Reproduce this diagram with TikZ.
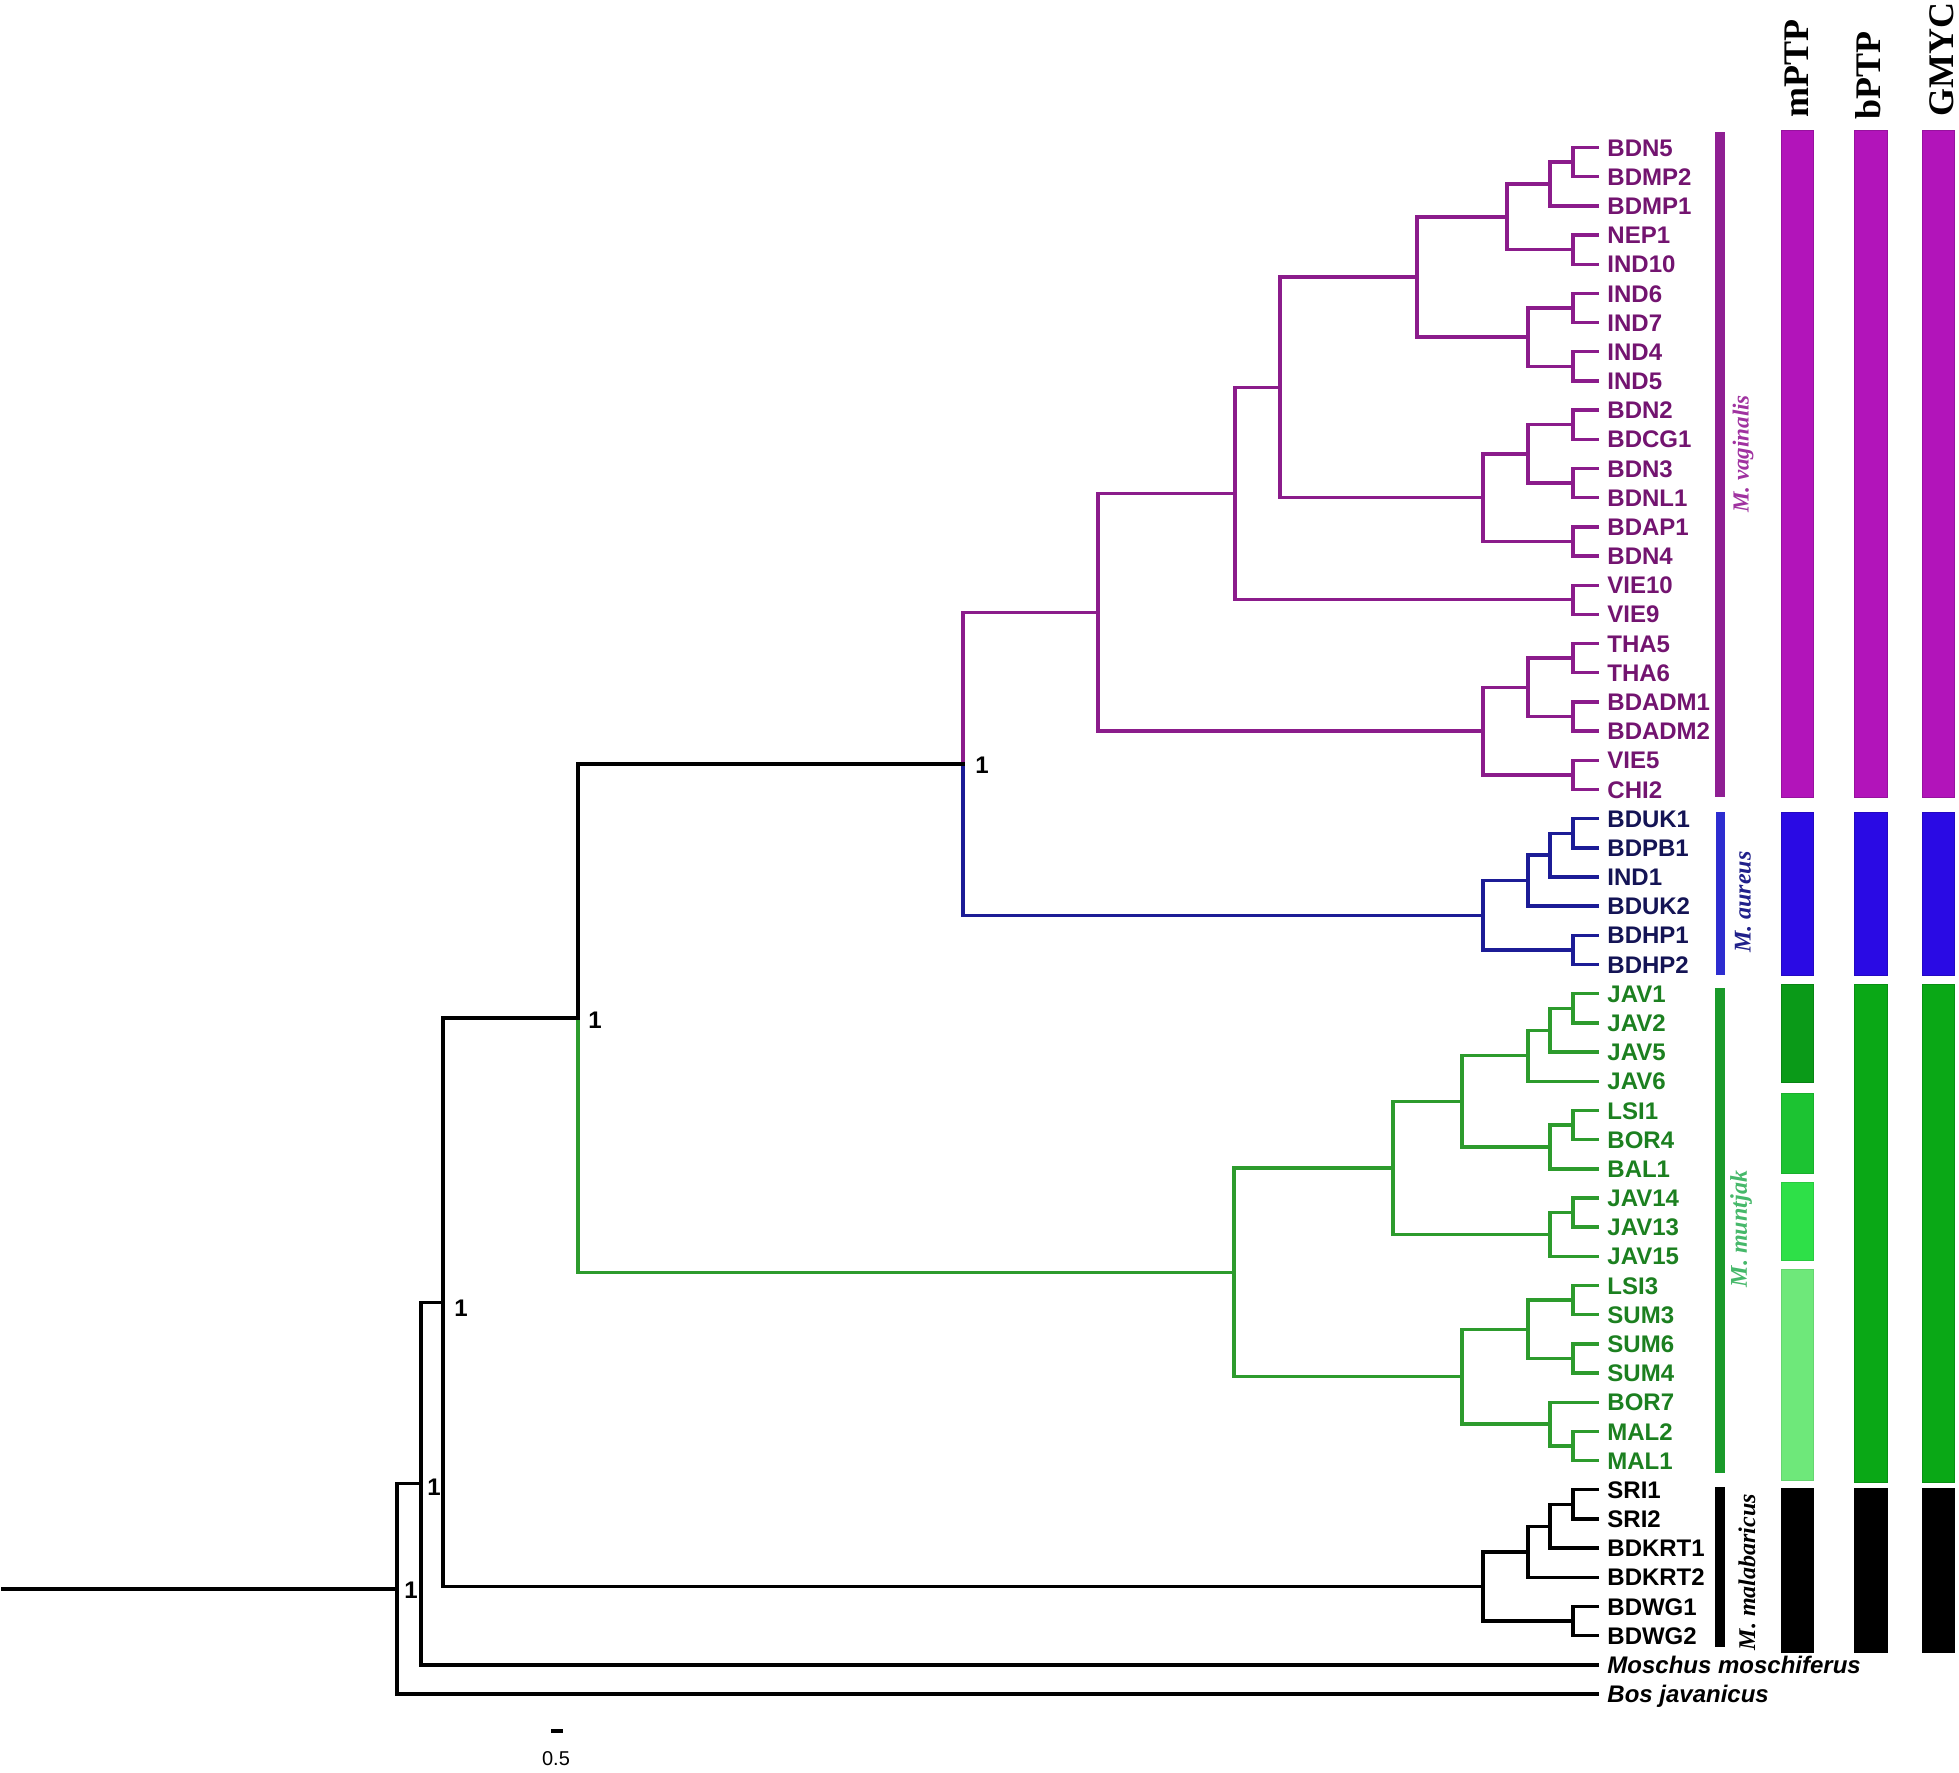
\documentclass[tikz,border=0pt]{standalone}
\usepackage{fontspec}
\setmainfont{Liberation Sans}
\newfontfamily\serifrm{Liberation Serif}
\definecolor{vagtr}{RGB}{139,28,139}
\definecolor{vagtx}{RGB}{115,20,112}
\definecolor{vagbar}{RGB}{178,20,186}
\definecolor{vagcl}{RGB}{143,31,147}
\definecolor{vagit}{RGB}{160,50,160}
\definecolor{aurtr}{RGB}{28,28,150}
\definecolor{aurtx}{RGB}{20,20,85}
\definecolor{aurbar}{RGB}{42,10,228}
\definecolor{aurcl}{RGB}{45,45,208}
\definecolor{aurit}{RGB}{32,32,138}
\definecolor{muntr}{RGB}{45,155,45}
\definecolor{muntx}{RGB}{28,128,32}
\definecolor{munbar}{RGB}{10,168,22}
\definecolor{muncl}{RGB}{26,154,42}
\definecolor{munit}{RGB}{70,184,106}
\definecolor{mpa}{RGB}{10,154,24}
\definecolor{mpb}{RGB}{28,195,50}
\definecolor{mpc}{RGB}{46,224,72}
\definecolor{mpd}{RGB}{110,232,122}
\newcommand\nd[3]{\coordinate (#1) at (#2,{147.5+29.18*(#3)});}
\newcommand\jn[4]{\draw[br,#1] (#2) |- (#3); \draw[br,#1] (#2) |- (#4);}
\begin{document}
\begin{tikzpicture}[x=0.5pt,y=-0.5pt,
  br/.style={line width=1.7pt, line cap=rect, line join=miter},
  leaf/.style={anchor=west, inner xsep=5pt, inner ysep=0pt, font=\bfseries\fontsize{12}{12}\selectfont, text height=8.6pt, text depth=0pt},
  boot/.style={anchor=west, inner sep=0pt, font=\bfseries\fontsize{12}{12}\selectfont, text height=8.6pt, text depth=0pt},
  spc/.style={rotate=90, inner sep=0pt, font=\serifrm\bfseries\itshape\fontsize{12}{12}\selectfont},
  hdr/.style={rotate=90, anchor=base west, inner sep=0pt, font=\serifrm\bfseries\fontsize{18}{18}\selectfont},
  barbox/.style={line width=0.4pt}]
\fill[white] (0,0) rectangle (1959,1772);
\useasboundingbox (0,0) rectangle (1959,1772);

% ---- leaves
\foreach \i/\t in {0/BDN5,1/BDMP2,2/BDMP1,3/NEP1,4/IND10,5/IND6,6/IND7,7/IND4,8/IND5,9/BDN2,10/BDCG1,11/BDN3,12/BDNL1,13/BDAP1,14/BDN4,15/VIE10,16/VIE9,17/THA5,18/THA6,19/BDADM1,20/BDADM2,21/VIE5,22/CHI2}
  \node[leaf,text=vagtx] (l\i) at (1597,{147.5+29.18*\i}) {\t};
\foreach \i/\t in {23/BDUK1,24/BDPB1,25/IND1,26/BDUK2,27/BDHP1,28/BDHP2}
  \node[leaf,text=aurtx] (l\i) at (1597,{147.5+29.18*\i}) {\t};
\foreach \i/\t in {29/JAV1,30/JAV2,31/JAV5,32/JAV6,33/LSI1,34/BOR4,35/BAL1,36/JAV14,37/JAV13,38/JAV15,39/LSI3,40/SUM3,41/SUM6,42/SUM4,43/BOR7,44/MAL2,45/MAL1}
  \node[leaf,text=muntx] (l\i) at (1597,{147.5+29.18*\i}) {\t};
\foreach \i/\t in {46/SRI1,47/SRI2,48/BDKRT1,49/BDKRT2,50/BDWG1,51/BDWG2}
  \node[leaf,text=black] (l\i) at (1597,{147.5+29.18*\i}) {\t};
\node[leaf,font=\bfseries\itshape\fontsize{12}{12}\selectfont] (l52) at (1597,{147.5+29.18*52}) {Moschus moschiferus};
\node[leaf,font=\bfseries\itshape\fontsize{12}{12}\selectfont] (l53) at (1597,{147.5+29.18*53}) {Bos javanicus};

% ---- M. vaginalis
\nd{n01}{1573}{0.5} \jn{vagtr}{n01}{l0.west}{l1.west}
\nd{n012}{1550}{1.25} \jn{vagtr}{n012}{n01}{l2.west}
\nd{n34}{1573}{3.5} \jn{vagtr}{n34}{l3.west}{l4.west}
\nd{nVf}{1507}{2.375} \jn{vagtr}{nVf}{n012}{n34}
\nd{n56}{1573}{5.5} \jn{vagtr}{n56}{l5.west}{l6.west}
\nd{n78}{1573}{7.5} \jn{vagtr}{n78}{l7.west}{l8.west}
\nd{nVs}{1528}{6.5} \jn{vagtr}{nVs}{n56}{n78}
\nd{nVt}{1417}{4.4375} \jn{vagtr}{nVt}{nVf}{nVs}
\nd{n910}{1573}{9.5} \jn{vagtr}{n910}{l9.west}{l10.west}
\nd{n1112}{1573}{11.5} \jn{vagtr}{n1112}{l11.west}{l12.west}
\nd{n912}{1528}{10.5} \jn{vagtr}{n912}{n910}{n1112}
\nd{n1314}{1573}{13.5} \jn{vagtr}{n1314}{l13.west}{l14.west}
\nd{nVg}{1483}{12} \jn{vagtr}{nVg}{n912}{n1314}
\nd{nVb}{1280}{8.21875} \jn{vagtr}{nVb}{nVt}{nVg}
\nd{n1516}{1573}{15.5} \jn{vagtr}{n1516}{l15.west}{l16.west}
\nd{nVa}{1235}{11.859375} \jn{vagtr}{nVa}{nVb}{n1516}
\nd{n1718}{1573}{17.5} \jn{vagtr}{n1718}{l17.west}{l18.west}
\nd{n1920}{1573}{19.5} \jn{vagtr}{n1920}{l19.west}{l20.west}
\nd{n1720}{1528}{18.5} \jn{vagtr}{n1720}{n1718}{n1920}
\nd{n2122}{1573}{21.5} \jn{vagtr}{n2122}{l21.west}{l22.west}
\nd{nTH}{1483}{20} \jn{vagtr}{nTH}{n1720}{n2122}
\nd{nV0}{1098}{15.9296875} \jn{vagtr}{nV0}{nVa}{nTH}

% ---- M. aureus
\nd{n2324}{1573}{23.5} \jn{aurtr}{n2324}{l23.west}{l24.west}
\nd{n2325}{1550}{24.25} \jn{aurtr}{n2325}{n2324}{l25.west}
\nd{n2326}{1528}{25.125} \jn{aurtr}{n2326}{n2325}{l26.west}
\nd{n2728}{1573}{27.5} \jn{aurtr}{n2728}{l27.west}{l28.west}
\nd{nAu}{1483}{26.3125} \jn{aurtr}{nAu}{n2326}{n2728}

\nd{nD}{963}{21.12109375}
\draw[br,vagtr] (nD) |- (nV0);
\draw[br,aurtr] (nD) |- (nAu);

% ---- M. muntjak
\nd{n2930}{1573}{29.5} \jn{muntr}{n2930}{l29.west}{l30.west}
\nd{n2931}{1550}{30.25} \jn{muntr}{n2931}{n2930}{l31.west}
\nd{n2932}{1528}{31.125} \jn{muntr}{n2932}{n2931}{l32.west}
\nd{n3334}{1573}{33.5} \jn{muntr}{n3334}{l33.west}{l34.west}
\nd{n3335}{1550}{34.25} \jn{muntr}{n3335}{n3334}{l35.west}
\nd{nJa}{1462}{32.6875} \jn{muntr}{nJa}{n2932}{n3335}
\nd{n3637}{1573}{36.5} \jn{muntr}{n3637}{l36.west}{l37.west}
\nd{n3638}{1550}{37.25} \jn{muntr}{n3638}{n3637}{l38.west}
\nd{nJb}{1393}{34.96875} \jn{muntr}{nJb}{nJa}{n3638}
\nd{n3940}{1573}{39.5} \jn{muntr}{n3940}{l39.west}{l40.west}
\nd{n4142}{1573}{41.5} \jn{muntr}{n4142}{l41.west}{l42.west}
\nd{n3942}{1528}{40.5} \jn{muntr}{n3942}{n3940}{n4142}
\nd{n4445}{1573}{44.5} \jn{muntr}{n4445}{l44.west}{l45.west}
\nd{n4345}{1550}{43.75} \jn{muntr}{n4345}{l43.west}{n4445}
\nd{nJc}{1462}{42.125} \jn{muntr}{nJc}{n3942}{n4345}
\nd{nMu}{1234}{38.546875} \jn{muntr}{nMu}{nJb}{nJc}

\nd{nC}{578}{29.833984375}
\draw[br,black] (nC) |- (nD);
\draw[br,muntr] (nC) |- (nMu);

% ---- M. malabaricus
\nd{n4647}{1573}{46.5} \jn{black}{n4647}{l46.west}{l47.west}
\nd{n4648}{1550}{47.25} \jn{black}{n4648}{n4647}{l48.west}
\nd{n4649}{1528}{48.125} \jn{black}{n4649}{n4648}{l49.west}
\nd{n5051}{1573}{50.5} \jn{black}{n5051}{l50.west}{l51.west}
\nd{nMa}{1483}{49.3125} \jn{black}{nMa}{n4649}{n5051}

\nd{nB}{443}{39.5732421875} \jn{black}{nB}{nC}{nMa}
\nd{nA}{421}{45.78662109375} \jn{black}{nA}{nB}{l52.west}
\nd{nR}{397}{49.393310546875} \jn{black}{nR}{nA}{l53.west}
\nd{stem}{3}{49.393310546875}
\draw[br] (stem) -- (nR);

% ---- support values
\node[boot] (bD) at ([xshift=6pt,yshift=-0.5pt]nD) {1};
\node[boot] (bC) at ([xshift=5pt,yshift=-1pt]nC) {1};
\node[boot] (bB) at ([xshift=5.5pt,yshift=-3pt]nB) {1};
\node[boot] (bA) at ([xshift=3pt,yshift=-1.7pt]nA) {1};
\node[boot] (bR) at ([xshift=3.5pt,yshift=-0.5pt]nR) {1};

% ---- clade bars
\fill[vagcl] (1715,132) rectangle (1725,797);
\fill[aurcl] (1716,812) rectangle (1725,975);
\fill[muncl] (1715,988) rectangle (1725,1473);
\fill[black] (1715,1487) rectangle (1725,1647);

\node[spc,text=vagit,font=\serifrm\bfseries\itshape\fontsize{11.5}{11.5}\selectfont] (sv) at (1743,454) {M. vaginalis};
\node[spc,text=aurit] (sa) at (1743,902) {M. aureus};
\node[spc,text=munit] (sm) at (1741,1229) {M. muntjak};
\node[spc,text=black] (sk) at (1747,1572) {M. malabaricus};

% ---- delimitation columns
\node[hdr] (hm) at (1808,118) {mPTP};
\node[hdr] (hb) at (1880,120) {bPTP};
\node[hdr] (hg) at (1953,117) {GMYC};

\foreach \xa/\xb in {1781/1813,1854/1887,1922/1954}{
  \filldraw[barbox,fill=vagbar,draw=vagbar!85!black] (\xa,130) rectangle (\xb,797);
  \filldraw[barbox,fill=aurbar,draw=aurbar!85!black] (\xa,812) rectangle (\xb,975);
  \filldraw[barbox,fill=black,draw=black] (\xa,1488) rectangle (\xb,1652);
}
\foreach \xa/\xb in {1854/1887,1922/1954}
  \filldraw[barbox,fill=munbar,draw=munbar!85!black] (\xa,984) rectangle (\xb,1482);
\filldraw[barbox,fill=mpa,draw=mpa!85!black] (1781,984) rectangle (1813,1082);
\filldraw[barbox,fill=mpb,draw=mpb!90!black] (1781,1093) rectangle (1813,1173);
\filldraw[barbox,fill=mpc,draw=mpc!90!black] (1781,1182) rectangle (1813,1260);
\filldraw[barbox,fill=mpd,draw=mpd!92!black] (1781,1269) rectangle (1813,1480);

% ---- scale bar
\node[fill=black, minimum width=6pt, minimum height=2pt, inner sep=0pt] (sbar) at (557,1731) {};
\node[inner sep=0pt, font=\fontsize{10}{10}\selectfont] (slab) at (556,1759) {0.5};
\end{tikzpicture}
\end{document}
